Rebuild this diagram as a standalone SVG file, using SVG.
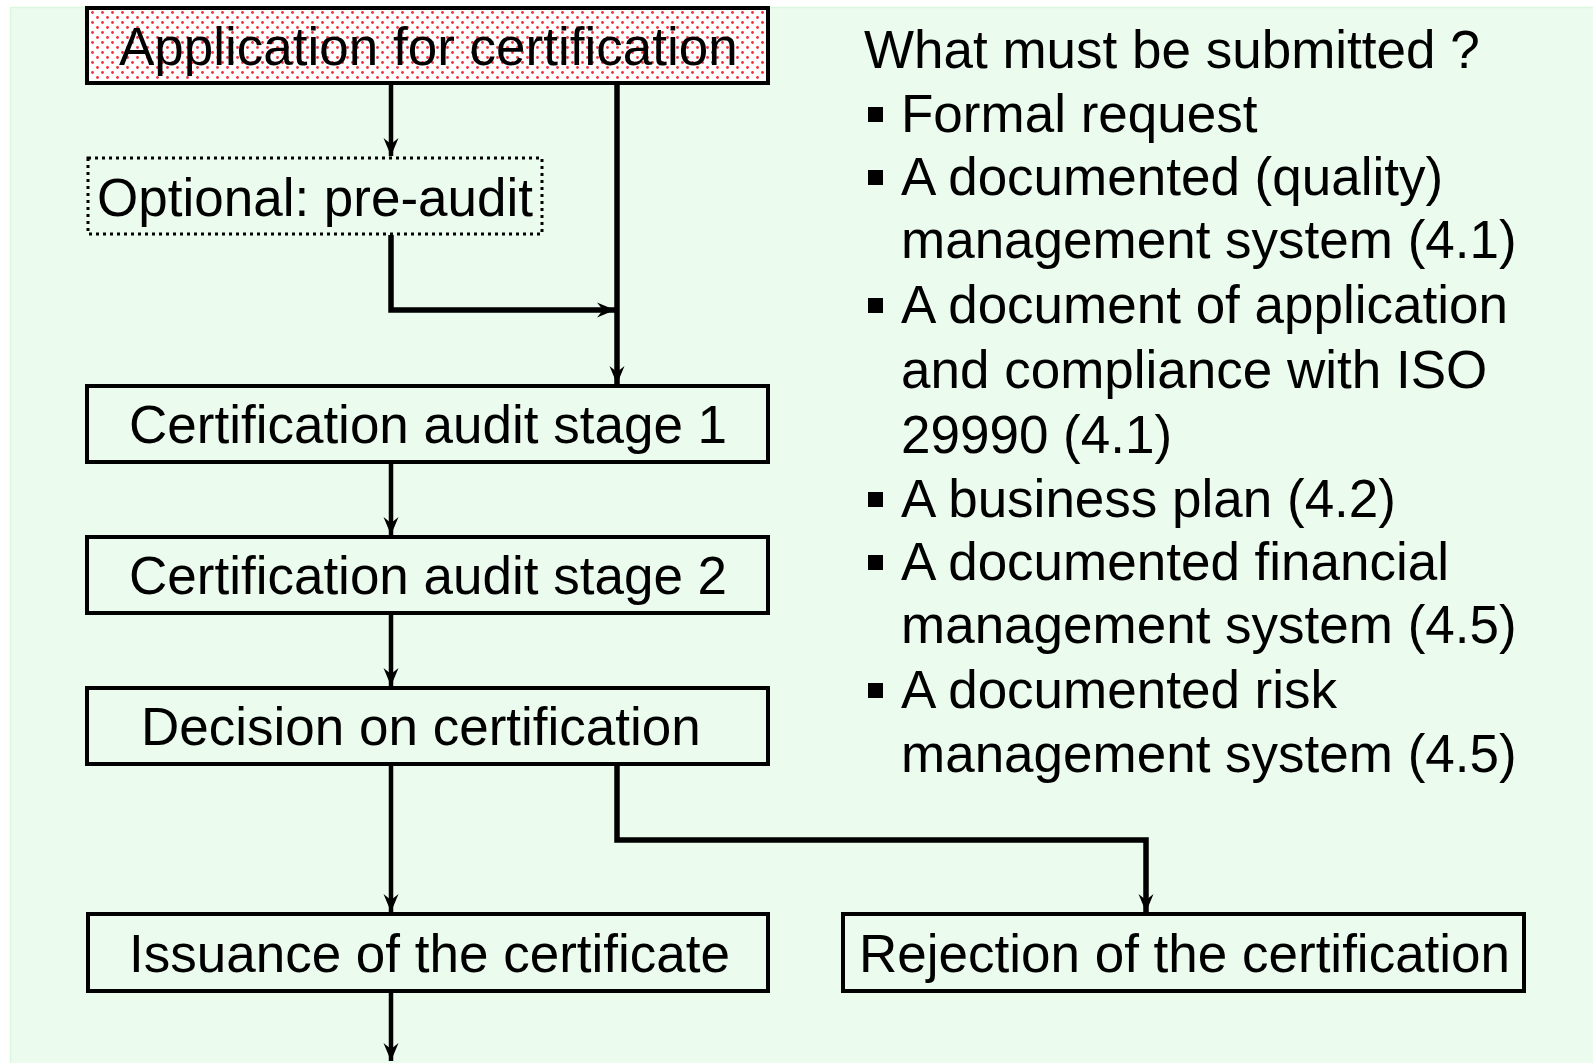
<svg xmlns="http://www.w3.org/2000/svg" width="1593" height="1063" viewBox="0 0 1593 1063">
<defs>
<style>
.txt{font-family:"Liberation Sans",Arial,sans-serif;font-size:53px;fill:#000}
.box{fill:none;stroke:#000;stroke-width:4}
.con{fill:none;stroke:#000;stroke-width:4.5;stroke-linejoin:miter}
.thick{stroke-width:5.5}
</style>
<pattern id="dots" x="0" y="0" width="10" height="10" patternUnits="userSpaceOnUse">
<rect width="10" height="10" fill="#fff"/>
<circle cx="2.5" cy="2.5" r="1.4" fill="#f0303c"/>
<circle cx="7.5" cy="7.5" r="1.4" fill="#f0303c"/>
</pattern>
<marker id="arr" markerUnits="userSpaceOnUse" markerWidth="20" markerHeight="18" viewBox="-19 -9 20 18" refX="0" refY="0" orient="auto">
<path d="M0,0 L-18,-7.5 L-12,0 L-18,7.5 Z" fill="#000"/>
</marker>
</defs>
<rect x="0" y="0" width="1593" height="1063" fill="#fff"/>
<rect x="10" y="7" width="1583" height="1056" fill="#ebfbee"/>
<path d="M10.5,1063 V7.5 H1593" fill="none" stroke="#dcf7e0" stroke-width="1.5"/>

<g id="connectors">
<path class="con" d="M391,84 V156" marker-end="url(#arr)"/>
<path class="con thick" d="M617,84 V384" marker-end="url(#arr)"/>
<path class="con thick" d="M391,235 V310 H615" marker-end="url(#arr)"/>
<path class="con" d="M391,462 V535" marker-end="url(#arr)"/>
<path class="con" d="M391,613 V686" marker-end="url(#arr)"/>
<path class="con" d="M391,764 V912" marker-end="url(#arr)"/>
<path class="con thick" d="M617,764 V840 H1146 V912" marker-end="url(#arr)"/>
<path class="con" d="M391,991 V1061" marker-end="url(#arr)"/>
</g>

<g id="n-application">
<rect x="87" y="8" width="681" height="75" fill="url(#dots)" stroke="#000" stroke-width="4"/>
<text class="txt" x="119" y="65">Application for certification</text>
</g>
<g id="n-preaudit">
<rect x="88" y="158" width="454" height="76" fill="none" stroke="#000" stroke-width="3" stroke-dasharray="3,4"/>
<text class="txt" x="97" y="216">Optional: pre-audit</text>
</g>
<g id="n-stage1">
<rect class="box" x="87" y="386" width="681" height="76"/>
<text class="txt" x="129" y="443">Certification audit stage 1</text>
</g>
<g id="n-stage2">
<rect class="box" x="87" y="537" width="681" height="76"/>
<text class="txt" x="129" y="594">Certification audit stage 2</text>
</g>
<g id="n-decision">
<rect class="box" x="87" y="688" width="681" height="76"/>
<text class="txt" x="141" y="745">Decision on certification</text>
</g>
<g id="n-issuance">
<rect class="box" x="88" y="914" width="680" height="77"/>
<text class="txt" x="129" y="972">Issuance of the certificate</text>
</g>
<g id="n-rejection">
<rect class="box" x="843" y="914" width="681" height="77"/>
<text class="txt" x="859" y="972">Rejection of the certification</text>
</g>

<g id="submission-list">
<text class="txt" x="864" y="68">What must be submitted ?</text>
<rect x="868" y="107" width="15" height="15"/>
<text class="txt" x="901" y="132">Formal request</text>
<rect x="868" y="170" width="15" height="15"/>
<text class="txt" x="901" y="195">A documented (quality)</text>
<text class="txt" x="901" y="258">management system (4.1)</text>
<rect x="868" y="298" width="15" height="15"/>
<text class="txt" x="901" y="323">A document of application</text>
<text class="txt" x="901" y="388">and compliance with ISO</text>
<text class="txt" x="901" y="453">29990 (4.1)</text>
<rect x="868" y="492" width="15" height="15"/>
<text class="txt" x="901" y="517">A business plan (4.2)</text>
<rect x="868" y="555" width="15" height="15"/>
<text class="txt" x="901" y="580">A documented financial</text>
<text class="txt" x="901" y="643">management system (4.5)</text>
<rect x="868" y="683" width="15" height="15"/>
<text class="txt" x="901" y="708">A documented risk</text>
<text class="txt" x="901" y="772">management system (4.5)</text>
</g>
</svg>
